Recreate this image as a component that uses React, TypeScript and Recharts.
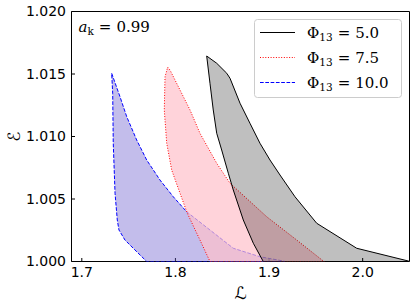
import { ScatterChart, Scatter, XAxis, YAxis, ReferenceLine, Legend } from 'recharts';

// boundary of each allowed region, walked around in order: [L, E]
const region5: [number, number][] = [
  [1.8334, 1.01644], [1.8441, 1.01586], [1.8548, 1.01506], [1.8583, 1.01466],
  [1.869, 1.01266], [1.8796, 1.01106], [1.8903, 1.00946], [1.901, 1.00812],
  [1.9117, 1.00692], [1.9277, 1.00518], [1.9509, 1.00306], [1.9936, 1.00106],
  [2.0487, 1.00004], [2.05, 1.0], [1.8938, 1.0], [1.8832, 1.00146],
  [1.8725, 1.00332], [1.8618, 1.00572], [1.8565, 1.00706], [1.8494, 1.00892],
  [1.8441, 1.01026], [1.8404, 1.01212], [1.8369, 1.01426], [1.8334, 1.01644],
];
const region75: [number, number][] = [
  [1.7917, 1.01554], [1.7942, 1.01532], [1.8049, 1.01372], [1.8156, 1.01212],
  [1.8262, 1.01026], [1.8441, 1.00786], [1.8583, 1.00626], [1.8975, 1.00358],
  [1.9295, 1.00172], [1.9579, 1.00004], [1.9592, 1.0], [1.8369, 1.0],
  [1.8262, 1.00172], [1.8127, 1.00386], [1.8049, 1.00546], [1.796, 1.00732],
  [1.7907, 1.00946], [1.7881, 1.01212], [1.7889, 1.01478], [1.7917, 1.01554],
];
const region10: [number, number][] = [
  [1.7319, 1.01506], [1.7408, 1.01318], [1.748, 1.01158], [1.7586, 1.00972],
  [1.7693, 1.00812], [1.7835, 1.00652], [1.7977, 1.00518], [1.812, 1.00398],
  [1.8369, 1.00252], [1.8618, 1.00106], [1.8903, 1.00038], [1.9152, 1.00004],
  [1.917, 1.0], [1.7693, 1.0], [1.7568, 1.00092], [1.7461, 1.00172],
  [1.7397, 1.00252], [1.7379, 1.00332], [1.7355, 1.00546], [1.7336, 1.00946],
  [1.733, 1.01346], [1.7319, 1.01506],
];

const xTicks = [1.7, 1.8, 1.9, 2.0];
const yTicks = [1.0, 1.005, 1.01, 1.015, 1.02];

const series = [
  { phi: '5.0', stroke: '#000000', dash: undefined, fill: '#000000', opacity: 0.25 },
  { phi: '7.5', stroke: '#ff0000', dash: '1 1.65', fill: 'pink', opacity: 0.7 },
  { phi: '10.0', stroke: '#0000ff', dash: '3.7 1.6', fill: 'slateblue', opacity: 0.4 },
];

const FONT = '"DejaVu Sans", sans-serif';
const MATH = '"DejaVu Serif", serif';
const toRows = (pts: [number, number][]) => pts.map(([L, E]) => ({ L, E }));

function LegendBox() {
  return (
    <svg width={149} height={80} style={{ display: 'block' }}>
      <rect x={0.5} y={0.5} width={147} height={78} rx={3} fill="#fff" fillOpacity={0.8} stroke="#cccccc" />
      {series.map((s, i) => {
        const y = 13.5 + i * 25;
        return (
          <g key={s.phi}>
            <line x1={6} x2={41} y1={y} y2={y} stroke={s.stroke} strokeWidth={1} strokeDasharray={s.dash} />
            <text x={53} y={y + 5.5} fontFamily={MATH} fontSize={15} fill="#000">
              <tspan>Φ</tspan>
              <tspan fontSize={10.5} dy={3}>13</tspan>
              <tspan dy={-3} dx={5}>=</tspan>
              <tspan dx={5}>{s.phi}</tspan>
            </text>
          </g>
        );
      })}
    </svg>
  );
}

function YLabel(p: any) {
  const vb = p.viewBox || { x: 0, y: 11.5, width: 71.5, height: 250 };
  const cx = vb.x + 13.5;
  const cy = vb.y + vb.height / 2;
  return (
    <text x={cx} y={cy} transform={`rotate(-90 ${cx} ${cy})`} textAnchor="middle" dominantBaseline="central"
      fontFamily={FONT} fontSize={17} fill="#000">
      ℰ
    </text>
  );
}

export default function App() {
  const order = [2, 1, 0];
  const regions = [region5, region75, region10];
  return (
    <div style={{ position: 'absolute', left: 0, top: 0, width: 415, height: 307, background: '#fff' }}>
      <ScatterChart width={415} height={307} margin={{ top: 11.5, right: 5.5, bottom: 0, left: 0 }}>
        {order.map((i) => {
          const s = series[i];
          return (
            <Scatter
              key={s.phi}
              data={toRows(regions[i])}
              dataKey="E"
              isAnimationActive={false}
              shape={() => <g />}
              line={{
                stroke: s.stroke,
                strokeWidth: 1,
                strokeDasharray: s.dash,
                fill: s.fill,
                fillOpacity: s.opacity,
              }}
              lineType="joint"
              lineJointType="linear"
            />
          );
        })}
        <XAxis
          type="number"
          dataKey="L"
          domain={[1.689, 2.05]}
          ticks={xTicks}
          allowDataOverflow
          height={45.5}
          tickSize={-3.5}
          tickMargin={9}
          tickFormatter={(v: number) => v.toFixed(1)}
          tick={{ fontFamily: FONT, fontSize: 14, fill: '#000' }}
          axisLine={{ stroke: '#000' }}
          tickLine={{ stroke: '#000' }}
          label={{ value: 'ℒ', position: 'insideBottom', offset: 8, fontFamily: FONT, fontSize: 17, fill: '#000' }}
        />
        <YAxis
          type="number"
          dataKey="E"
          domain={[1.0, 1.02]}
          ticks={yTicks}
          allowDataOverflow
          width={71.5}
          tickSize={-3.5}
          tickMargin={9}
          tickFormatter={(v: number) => v.toFixed(3)}
          tick={{ fontFamily: FONT, fontSize: 14, fill: '#000' }}
          axisLine={{ stroke: '#000' }}
          tickLine={{ stroke: '#000' }}
          label={{ content: YLabel }}
        />
        <ReferenceLine y={1.02} stroke="#000" />
        <ReferenceLine x={2.05} stroke="#000" />
        <Legend
          content={() => <LegendBox />}
          layout="horizontal"
          verticalAlign="middle"
          align="center"
          wrapperStyle={{ position: 'absolute', left: 253.5, top: 18.5, width: 149, height: 80 }}
        />
      </ScatterChart>
      <svg width={120} height={30} style={{ position: 'absolute', left: 70, top: 12 }}>
        <text x={8.5} y={20} fontFamily={MATH} fontSize={15} fill="#000">
          <tspan fontStyle="italic">a</tspan>
          <tspan fontSize={10.5} dy={3}>k</tspan>
          <tspan dy={-3} dx={5}>=</tspan>
          <tspan dx={5}>0.99</tspan>
        </text>
      </svg>
    </div>
  );
}
